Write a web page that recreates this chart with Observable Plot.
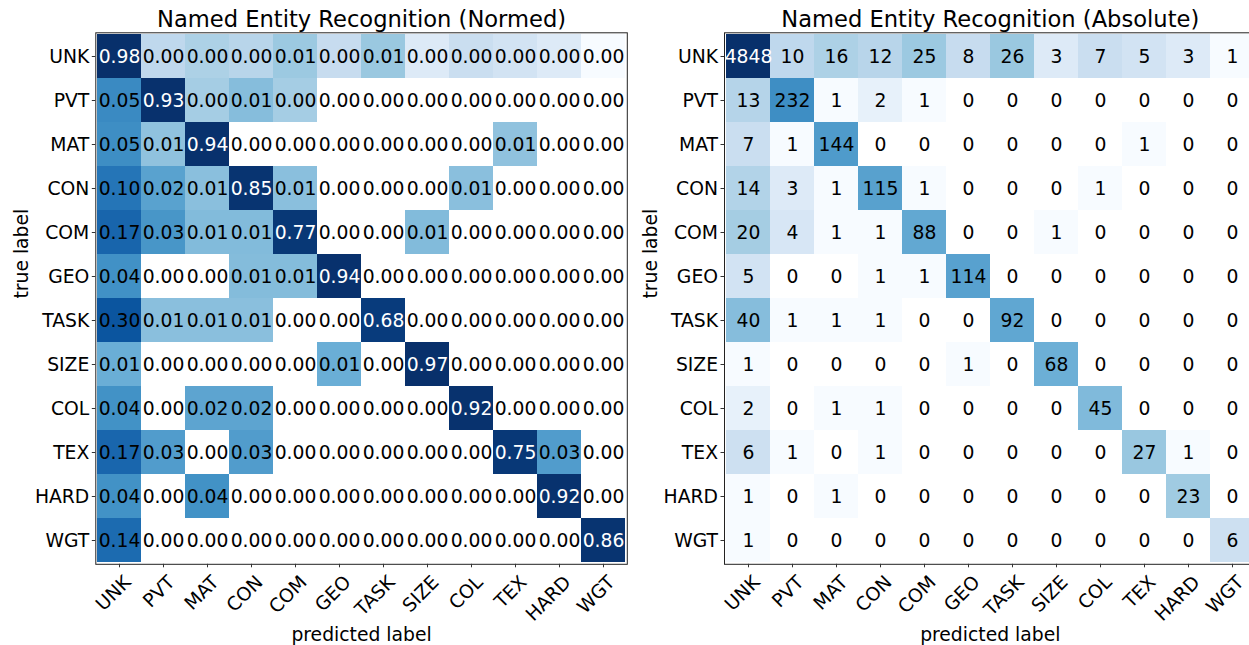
<!DOCTYPE html>
<html><head><meta charset="utf-8">
<script src="https://cdn.jsdelivr.net/npm/d3@7"></script>
<script src="https://cdn.jsdelivr.net/npm/@observablehq/plot@0.6"></script>
<style>
html,body{margin:0;padding:0;background:#fff;}
#wrap{position:relative;width:1249px;height:645px;overflow:hidden;background:#fff;}
#left,#right{position:absolute;top:0;width:630px;height:645px;}
#left{left:0px}
#right{left:630px}
#wrap svg{max-width:none !important;}
</style></head><body><div id="wrap"><div id="left"></div><div id="right"></div></div>
<script>
// categories (true label rows, predicted label columns)
const labels = ["UNK","PVT","MAT","CON","COM","GEO","TASK","SIZE","COL","TEX","HARD","WGT"];

// absolute counts, one array per true label
const rowUNK  = [4848, 10, 16, 12, 25, 8, 26, 3, 7, 5, 3, 1];
const rowPVT  = [13, 232, 1, 2, 1, 0, 0, 0, 0, 0, 0, 0];
const rowMAT  = [7, 1, 144, 0, 0, 0, 0, 0, 0, 1, 0, 0];
const rowCON  = [14, 3, 1, 115, 1, 0, 0, 0, 1, 0, 0, 0];
const rowCOM  = [20, 4, 1, 1, 88, 0, 0, 1, 0, 0, 0, 0];
const rowGEO  = [5, 0, 0, 1, 1, 114, 0, 0, 0, 0, 0, 0];
const rowTASK = [40, 1, 1, 1, 0, 0, 92, 0, 0, 0, 0, 0];
const rowSIZE = [1, 0, 0, 0, 0, 1, 0, 68, 0, 0, 0, 0];
const rowCOL  = [2, 0, 1, 1, 0, 0, 0, 0, 45, 0, 0, 0];
const rowTEX  = [6, 1, 0, 1, 0, 0, 0, 0, 0, 27, 1, 0];
const rowHARD = [1, 0, 1, 0, 0, 0, 0, 0, 0, 0, 23, 0];
const rowWGT  = [1, 0, 0, 0, 0, 0, 0, 0, 0, 0, 0, 6];

const titleNormed = "Named Entity Recognition (Normed)";
const titleAbsolute = "Named Entity Recognition (Absolute)";
const xTitle = "predicted label";
const yTitle = "true label";

const rows = [rowUNK,rowPVT,rowMAT,rowCON,rowCOM,rowGEO,rowTASK,rowSIZE,rowCOL,rowTEX,rowHARD,rowWGT];
const counts = rows.flatMap((r,i)=> r.map((c,j)=>({t:labels[i], p:labels[j], v:c})));
const normed = rows.flatMap((r,i)=>{const s=d3.sum(r); return r.map((c,j)=>({t:labels[i], p:labels[j], v:c/s}));});

const blues = d3.piecewise(d3.interpolateRgb, ["#f7fbff","#deebf7","#c6dbef","#9ecae1","#6baed6","#4292c6","#2171b5","#08519c","#08306b"]);

const FS = 18.75;

function matrix(data, title, fmt, marginLeft, width) {
  const pos = data.filter(d => d.v > 0);
  const lo = d3.min(pos, d => d.v), hi = d3.max(data, d => d.v);
  const thr = hi / 2;
  const frameBottom = 563.8, top = 32.3, H = 645, side = 531.5;
  return Plot.plot({
    width, height: H,
    marginLeft, marginRight: width - marginLeft - side,
    marginTop: top, marginBottom: H - frameBottom,
    style: {fontFamily: "DejaVu Sans", fontSize: FS + "px", color: "black", background: "transparent", overflow: "visible", maxWidth: "none"},
    x: {domain: labels, padding: 0, label: null},
    y: {domain: labels, padding: 0, label: null},
    color: {type: "log", domain: [lo, hi], interpolate: blues, clamp: true},
    marks: [
      Plot.cell(pos, {x: "p", y: "t", fill: "v", inset: 0}),
      Plot.text(data.filter(d => d.v <= thr), {x: "p", y: "t", text: d => fmt(d.v), fill: "black", fontSize: FS}),
      Plot.text(data.filter(d => d.v > thr), {x: "p", y: "t", text: d => fmt(d.v), fill: "white", fontSize: FS}),
      Plot.frame({stroke: "#222", strokeWidth: 1}),
      Plot.axisY({tickSize: 3.5, tickPadding: 3, fontSize: FS, label: null, stroke: "#333"}),
      Plot.axisX({tickSize: 3.5, tickFormat: () => "", label: null, stroke: "#333"}),
      Plot.text(labels, {x: d => d, text: d => d, frameAnchor: "bottom", rotate: -45, textAnchor: "end", lineAnchor: "top", dx: 3, dy: 9.7, fontSize: FS, fill: "black"}),
      Plot.text([title], {text: d => d, frameAnchor: "top", lineAnchor: "middle", dy: -13.1, fontSize: 22.6, fill: "black"}),
      Plot.text([xTitle], {text: d => d, frameAnchor: "bottom", lineAnchor: "middle", dy: 70.7, fontSize: FS, fill: "black"}),
      Plot.text([yTitle], {text: d => d, frameAnchor: "left", rotate: -90, lineAnchor: "middle", dx: -74, fontSize: FS, fill: "black"})
    ]
  });
}

document.getElementById("left").append(matrix(normed, titleNormed, d3.format(".2f"), 95.3, 630));
document.getElementById("right").append(matrix(counts, titleAbsolute, d3.format("d"), 94, 630));
</script></body></html>
